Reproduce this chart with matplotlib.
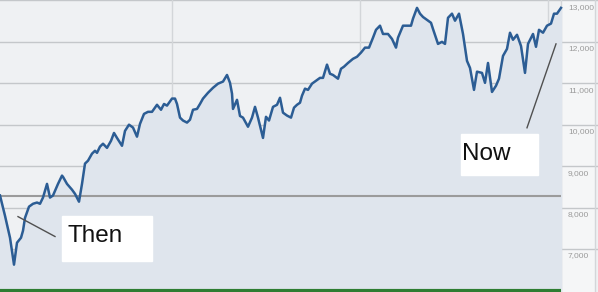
import matplotlib
matplotlib.use("Agg")
import matplotlib.pyplot as plt
from matplotlib.patches import Rectangle

# posiciones horizontales (unidades de sesión) y valores del índice
t = [0, 5, 10, 14, 17, 21, 23, 25, 29, 33, 37, 40, 43, 47, 50, 53, 58, 62, 63, 67,
     72, 75, 79, 82, 85, 88, 92, 95, 97, 100, 103, 107, 111, 114, 117, 122, 125, 129,
     133, 137, 140, 144, 148, 152, 155, 157, 161, 164, 167, 172, 175, 177, 180, 183,
     187, 190, 193, 197, 200, 203, 208, 213, 218, 223, 227, 230, 232, 233, 237, 240,
     243, 248, 252, 255, 258, 263, 266, 269, 273, 277, 280, 283, 287, 291, 294, 297,
     300, 302, 305, 308, 312, 316, 320, 323, 327, 330, 333, 338, 341, 344, 348, 353,
     357, 361, 365, 369, 373, 376, 380, 383, 388, 392, 396, 398, 403, 407, 411, 413,
     417, 420, 423, 427, 431, 433, 438, 442, 445, 448, 452, 455, 459, 463, 467, 470,
     474, 477, 482, 485, 488, 492, 496, 499, 503, 507, 510, 513, 517, 521, 525, 528,
     533, 536, 539, 543, 547, 551, 554, 557, 561]
valor = [8290, 7800, 7270, 6620, 7150, 7270, 7440, 7750, 8020, 8090, 8120, 8090, 8240,
         8570, 8240, 8290, 8570, 8770, 8740, 8570, 8430, 8330, 8140, 8570, 9060, 9130,
         9300, 9370, 9320, 9470, 9540, 9440, 9610, 9800, 9680, 9490, 9850, 10000, 9930,
         9710, 10020, 10260, 10310, 10310, 10410, 10480, 10360, 10500, 10460, 10630,
         10630, 10500, 10170, 10100, 10050, 10120, 10360, 10380, 10500, 10630, 10770,
         10890, 10990, 11040, 11200, 11010, 10750, 10380, 10600, 10210, 10170, 9950,
         10170, 10430, 10170, 9680, 10190, 10100, 10430, 10480, 10650, 10290, 10220,
         10170, 10410, 10480, 10530, 10700, 10870, 10840, 10990, 11060, 11130, 11130,
         11450, 11230, 11200, 11110, 11350, 11400, 11490, 11590, 11640, 11740, 11860,
         11860, 12100, 12290, 12390, 12190, 12190, 12070, 11860, 12100, 12390, 12390,
         12390, 12560, 12820, 12680, 12600, 12530, 12460, 12310, 11950, 12000, 11950,
         12580, 12680, 12510, 12680, 12190, 11540, 11370, 10840, 11280, 11250, 11010,
         11490, 10790, 10940, 11110, 11660, 11830, 12220, 12050, 12170, 11900, 11250,
         11950, 12190, 11880, 12290, 12220, 12390, 12440, 12680, 12680, 12820]

niveles = [13000, 12000, 11000, 10000, 9000, 8000, 7000]
etiquetas = ["13,000", "12,000", "11,000", "10,000", "9,000", "8,000", "7,000"]
cierre_previo = 8270
lineas_verticales = [172, 360, 548]

# Colores
FONDO = "#eff1f3"
RELLENO = "#dfe5ed"
COLUMNA = "#f5f6f7"
AZUL = "#2c5d94"
GRIS = "#c4c7ca"

fig = plt.figure(figsize=(5.98, 2.92), dpi=100)
ax = fig.add_axes([0, 0, 1, 1])
ax.set_xlim(0, 598)
ax.set_ylim(5960, 13010)
ax.set_facecolor(FONDO)
for s in ax.spines.values():
    s.set_visible(False)
ax.set_xticks([])
ax.set_yticks([])

fin = t[-1]
# columna de etiquetas
ax.add_patch(Rectangle((fin, 5960), 595 - fin, 7050, color=COLUMNA, zorder=0.5))

for n in niveles:
    ax.axhline(n, color=GRIS, lw=1, zorder=1)
for v in lineas_verticales:
    ax.axvline(v, color="#d3d6d9", lw=1, zorder=1)
ax.axvline(fin, color="#d3d6d9", lw=1, zorder=1)
ax.axvline(595, color="#d3d6d9", lw=1, zorder=1)

ax.fill_between(t, valor, 5960, color=RELLENO, zorder=1.5)
ax.plot(t, valor, color=AZUL, lw=1.8, zorder=3, solid_joinstyle="round")

ax.hlines(cierre_previo, 0, fin, color="#9b9b9b", lw=1.5, zorder=2)
ax.hlines(5985, 0, fin, color="#2e7d32", lw=3, zorder=4)

for n, e in zip(niveles, etiquetas):
    ax.text(568, n - 170, e, fontsize=6, color="#9a9a9a", va="center", ha="left",
            family="Liberation Sans", zorder=5)

# Anotaciones
ax.plot([18, 55], [7780, 7300], color="#505050", lw=1, zorder=4)
ax.add_patch(Rectangle((62, 6716), 90, 1086, color="white", zorder=5))
ax.text(68, 7320, "Then", fontsize=17.5, va="center", ha="left",
        family="Liberation Sans", color="#111111", zorder=6)

ax.plot([527, 556], [9925, 11950], color="#505050", lw=1, zorder=4)
ax.add_patch(Rectangle((461, 8790), 77, 990, color="white", zorder=5))
ax.text(462, 9300, "Now", fontsize=17.5, va="center", ha="left",
        family="Liberation Sans", color="#111111", zorder=6)

fig.savefig("out.png", dpi=100)
